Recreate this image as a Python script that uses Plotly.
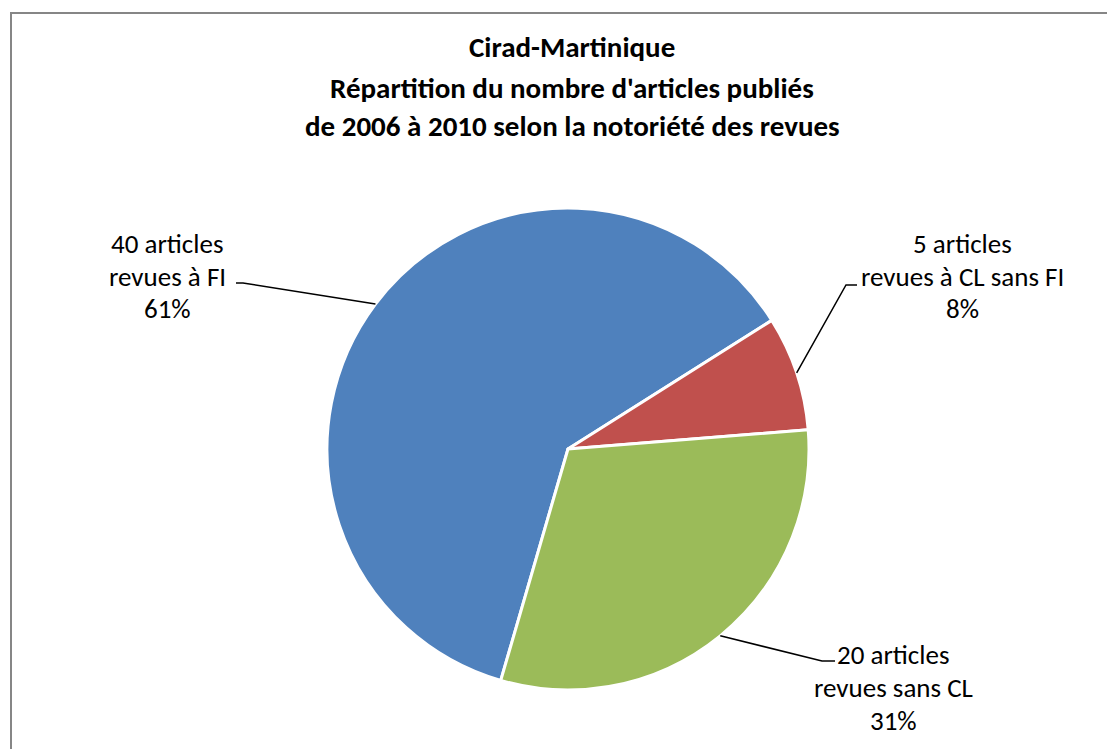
import math
import plotly.graph_objects as go

# ---- data ----
categories = ["revues à FI", "revues à CL sans FI", "revues sans CL"]
articles = [40, 5, 20]
percent_labels = ["61%", "8%", "31%"]
colors = ["#4F81BD", "#C0504D", "#9BBB59"]
title_lines = ["Cirad-Martinique",
               "Répartition du nombre d'articles publiés",
               "de 2006 à 2010 selon la notoriété des revues"]

# ---- layout constants (pixels in the page; the page body adds an 8px offset) ----
W, H = 1115, 749
OFF = 8
CX, CY, R = 568, 449, 241
ROTATION = 196.2
FONT = "Carlito, Lato, sans-serif"

def px(x):
    return (x - OFF) / W

def py(y):
    return 1 - (y - OFF) / H

fig = go.Figure(go.Pie(
    labels=categories, values=articles, sort=False, direction="clockwise",
    rotation=ROTATION, marker=dict(colors=colors, line=dict(color="white", width=3)),
    textinfo="none", hoverinfo="label+value+percent", showlegend=False,
    domain=dict(x=[px(CX - R), px(CX + R)], y=[py(CY + R), py(CY - R)]),
))

total = sum(articles)
# label block placement: (center x, first line y, elbow x, elbow y, text-side x)
label_pos = [
    (167, 243, 243, 283, 236),
    (962, 243, 846, 285, 857),
    (893, 654, 822, 661, 835),
]
LINE_GAP = 33

annotations = []
shapes = []
cum = 0
for cat, val, pct, (lx, ly, ex, ey, tx) in zip(categories, articles, percent_labels, label_pos):
    mid = ROTATION + 360 * (cum + val / 2) / total
    cum += val
    a = math.radians(mid)
    edge_x = CX + R * math.sin(a)
    edge_y = CY - R * math.cos(a)
    lines = [f"{val} articles", cat, pct]
    for i, t in enumerate(lines):
        annotations.append(dict(
            x=px(lx), y=py(ly + i * LINE_GAP), xref="paper", yref="paper",
            text=t, showarrow=False, xanchor="center", yanchor="middle",
            font=dict(family=FONT, size=27, color="#000000")))
    shapes.append(dict(
        type="path", xref="paper", yref="paper",
        path=f"M {px(edge_x)} {py(edge_y)} L {px(ex)} {py(ey)} L {px(tx)} {py(ey)}",
        line=dict(color="#000000", width=1.5)))

title_y = [47, 88, 126]
for t, y in zip(title_lines, title_y):
    annotations.append(dict(
        x=px(572), y=py(y), xref="paper", yref="paper", text=f"<b>{t}</b>",
        showarrow=False, xanchor="center", yanchor="middle",
        font=dict(family=FONT, size=29, color="#000000")))

# outer chart border
shapes.append(dict(type="rect", xref="paper", yref="paper",
                   x0=px(11), x1=1.02, y0=-0.02, y1=py(13),
                   line=dict(color="#868686", width=2)))

fig.update_layout(
    width=W, height=H, margin=dict(l=0, r=0, t=0, b=0),
    paper_bgcolor="white", plot_bgcolor="white",
    annotations=annotations, shapes=shapes,
)
fig.write_html("out.html")
